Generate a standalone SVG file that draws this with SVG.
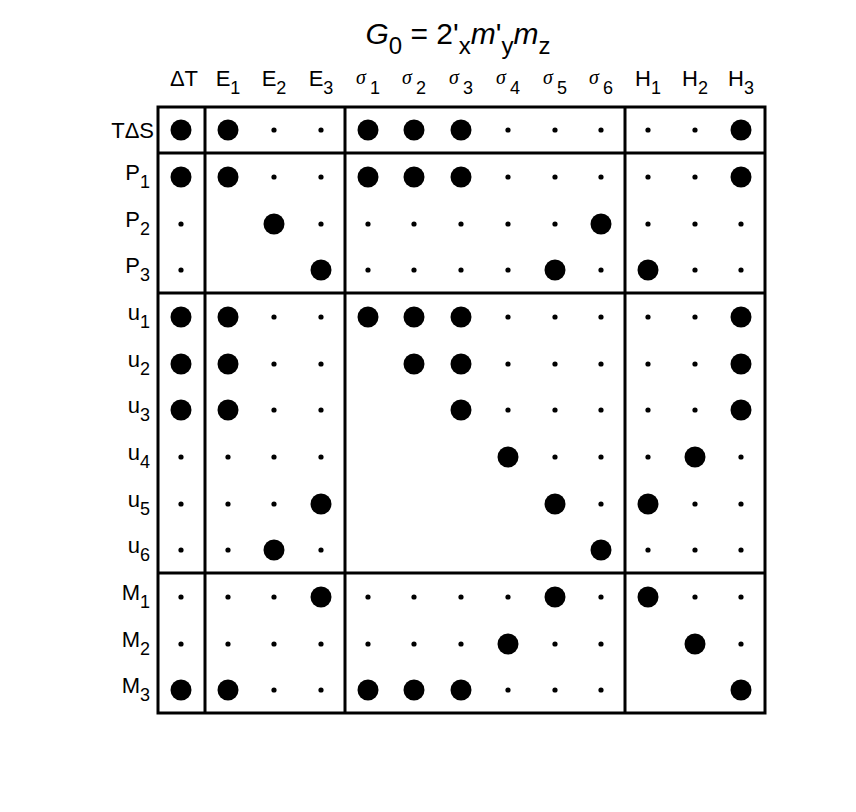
<svg xmlns="http://www.w3.org/2000/svg" xmlns:xlink="http://www.w3.org/1999/xlink" width="856" height="812" viewBox="0 0 856 812">
<style>
text{font-family:"Liberation Sans",Arial,sans-serif;fill:#000}
.h{font-size:22px;text-anchor:middle}
.r{font-size:22px;text-anchor:end}
.s{font-size:18px}
.g{font-style:italic;font-family:"Liberation Serif",serif;font-size:20px}
.ln{stroke:#000;stroke-width:3;fill:none}
</style>
<defs>
<circle id="B" r="10.5" fill="#000"/>
<circle id="S" r="2.6" fill="#000"/>
</defs>
<rect width="856" height="812" fill="#fff"/>
<text x="458" y="44" style="font-size:30px" text-anchor="middle"><tspan font-style="italic">G</tspan><tspan font-size="24" dy="10">0</tspan><tspan dy="-10"> = 2'</tspan><tspan font-size="24" dy="10">x</tspan><tspan dy="-10" font-style="italic">m</tspan><tspan>'</tspan><tspan font-size="24" dy="10">y</tspan><tspan dy="-10" font-style="italic">m</tspan><tspan font-size="24" dy="10">z</tspan></text>
<g id="colheads" class="h">
<text x="184" y="86">ΔT</text>
<text x="228" y="86">E<tspan class="s" dy="8">1</tspan></text>
<text x="274" y="86">E<tspan class="s" dy="8">2</tspan></text>
<text x="321" y="86">E<tspan class="s" dy="8">3</tspan></text>
<text x="368" y="84"><tspan class="g">σ</tspan><tspan class="s" dx="4" dy="10">1</tspan></text>
<text x="414" y="84"><tspan class="g">σ</tspan><tspan class="s" dx="4" dy="10">2</tspan></text>
<text x="461" y="84"><tspan class="g">σ</tspan><tspan class="s" dx="4" dy="10">3</tspan></text>
<text x="508" y="84"><tspan class="g">σ</tspan><tspan class="s" dx="4" dy="10">4</tspan></text>
<text x="555" y="84"><tspan class="g">σ</tspan><tspan class="s" dx="4" dy="10">5</tspan></text>
<text x="601" y="84"><tspan class="g">σ</tspan><tspan class="s" dx="4" dy="10">6</tspan></text>
<text x="648" y="86">H<tspan class="s" dy="8">1</tspan></text>
<text x="695" y="86">H<tspan class="s" dy="8">2</tspan></text>
<text x="741" y="86">H<tspan class="s" dy="8">3</tspan></text>
</g>
<g id="rowheads" class="r">
<text x="154" y="138">TΔS</text>
<text x="150" y="180">P<tspan class="s" dy="8">1</tspan></text>
<text x="150" y="227">P<tspan class="s" dy="8">2</tspan></text>
<text x="150" y="273">P<tspan class="s" dy="8">3</tspan></text>
<text x="150" y="320">u<tspan class="s" dy="8">1</tspan></text>
<text x="150" y="367">u<tspan class="s" dy="8">2</tspan></text>
<text x="150" y="413">u<tspan class="s" dy="8">3</tspan></text>
<text x="150" y="460">u<tspan class="s" dy="8">4</tspan></text>
<text x="150" y="507">u<tspan class="s" dy="8">5</tspan></text>
<text x="150" y="553">u<tspan class="s" dy="8">6</tspan></text>
<text x="150" y="600">M<tspan class="s" dy="8">1</tspan></text>
<text x="150" y="647">M<tspan class="s" dy="8">2</tspan></text>
<text x="150" y="693">M<tspan class="s" dy="8">3</tspan></text>
</g>
<g id="frame" class="ln">
<rect x="158" y="107" width="607" height="606"/>
<line x1="205" y1="107" x2="205" y2="713"/>
<line x1="345" y1="107" x2="345" y2="713"/>
<line x1="625" y1="107" x2="625" y2="713"/>
<line x1="158" y1="153" x2="765" y2="153"/>
<line x1="158" y1="293" x2="765" y2="293"/>
<line x1="158" y1="573" x2="765" y2="573"/>
</g>
<g id="r0" transform="translate(0,130)"><use href="#B" x="181"/><use href="#B" x="228"/><use href="#S" x="274"/><use href="#S" x="321"/><use href="#B" x="368"/><use href="#B" x="414"/><use href="#B" x="461"/><use href="#S" x="508"/><use href="#S" x="555"/><use href="#S" x="601"/><use href="#S" x="648"/><use href="#S" x="695"/><use href="#B" x="741"/></g>
<g id="r1" transform="translate(0,177)"><use href="#B" x="181"/><use href="#B" x="228"/><use href="#S" x="274"/><use href="#S" x="321"/><use href="#B" x="368"/><use href="#B" x="414"/><use href="#B" x="461"/><use href="#S" x="508"/><use href="#S" x="555"/><use href="#S" x="601"/><use href="#S" x="648"/><use href="#S" x="695"/><use href="#B" x="741"/></g>
<g id="r2" transform="translate(0,224)"><use href="#S" x="181"/><use href="#B" x="274"/><use href="#S" x="321"/><use href="#S" x="368"/><use href="#S" x="414"/><use href="#S" x="461"/><use href="#S" x="508"/><use href="#S" x="555"/><use href="#B" x="601"/><use href="#S" x="648"/><use href="#S" x="695"/><use href="#S" x="741"/></g>
<g id="r3" transform="translate(0,270)"><use href="#S" x="181"/><use href="#B" x="321"/><use href="#S" x="368"/><use href="#S" x="414"/><use href="#S" x="461"/><use href="#S" x="508"/><use href="#B" x="555"/><use href="#S" x="601"/><use href="#B" x="648"/><use href="#S" x="695"/><use href="#S" x="741"/></g>
<g id="r4" transform="translate(0,317)"><use href="#B" x="181"/><use href="#B" x="228"/><use href="#S" x="274"/><use href="#S" x="321"/><use href="#B" x="368"/><use href="#B" x="414"/><use href="#B" x="461"/><use href="#S" x="508"/><use href="#S" x="555"/><use href="#S" x="601"/><use href="#S" x="648"/><use href="#S" x="695"/><use href="#B" x="741"/></g>
<g id="r5" transform="translate(0,364)"><use href="#B" x="181"/><use href="#B" x="228"/><use href="#S" x="274"/><use href="#S" x="321"/><use href="#B" x="414"/><use href="#B" x="461"/><use href="#S" x="508"/><use href="#S" x="555"/><use href="#S" x="601"/><use href="#S" x="648"/><use href="#S" x="695"/><use href="#B" x="741"/></g>
<g id="r6" transform="translate(0,410)"><use href="#B" x="181"/><use href="#B" x="228"/><use href="#S" x="274"/><use href="#S" x="321"/><use href="#B" x="461"/><use href="#S" x="508"/><use href="#S" x="555"/><use href="#S" x="601"/><use href="#S" x="648"/><use href="#S" x="695"/><use href="#B" x="741"/></g>
<g id="r7" transform="translate(0,457)"><use href="#S" x="181"/><use href="#S" x="228"/><use href="#S" x="274"/><use href="#S" x="321"/><use href="#B" x="508"/><use href="#S" x="555"/><use href="#S" x="601"/><use href="#S" x="648"/><use href="#B" x="695"/><use href="#S" x="741"/></g>
<g id="r8" transform="translate(0,504)"><use href="#S" x="181"/><use href="#S" x="228"/><use href="#S" x="274"/><use href="#B" x="321"/><use href="#B" x="555"/><use href="#S" x="601"/><use href="#B" x="648"/><use href="#S" x="695"/><use href="#S" x="741"/></g>
<g id="r9" transform="translate(0,550)"><use href="#S" x="181"/><use href="#S" x="228"/><use href="#B" x="274"/><use href="#S" x="321"/><use href="#B" x="601"/><use href="#S" x="648"/><use href="#S" x="695"/><use href="#S" x="741"/></g>
<g id="r10" transform="translate(0,597)"><use href="#S" x="181"/><use href="#S" x="228"/><use href="#S" x="274"/><use href="#B" x="321"/><use href="#S" x="368"/><use href="#S" x="414"/><use href="#S" x="461"/><use href="#S" x="508"/><use href="#B" x="555"/><use href="#S" x="601"/><use href="#B" x="648"/><use href="#S" x="695"/><use href="#S" x="741"/></g>
<g id="r11" transform="translate(0,644)"><use href="#S" x="181"/><use href="#S" x="228"/><use href="#S" x="274"/><use href="#S" x="321"/><use href="#S" x="368"/><use href="#S" x="414"/><use href="#S" x="461"/><use href="#B" x="508"/><use href="#S" x="555"/><use href="#S" x="601"/><use href="#B" x="695"/><use href="#S" x="741"/></g>
<g id="r12" transform="translate(0,690)"><use href="#B" x="181"/><use href="#B" x="228"/><use href="#S" x="274"/><use href="#S" x="321"/><use href="#B" x="368"/><use href="#B" x="414"/><use href="#B" x="461"/><use href="#S" x="508"/><use href="#S" x="555"/><use href="#S" x="601"/><use href="#B" x="741"/></g>
</svg>
